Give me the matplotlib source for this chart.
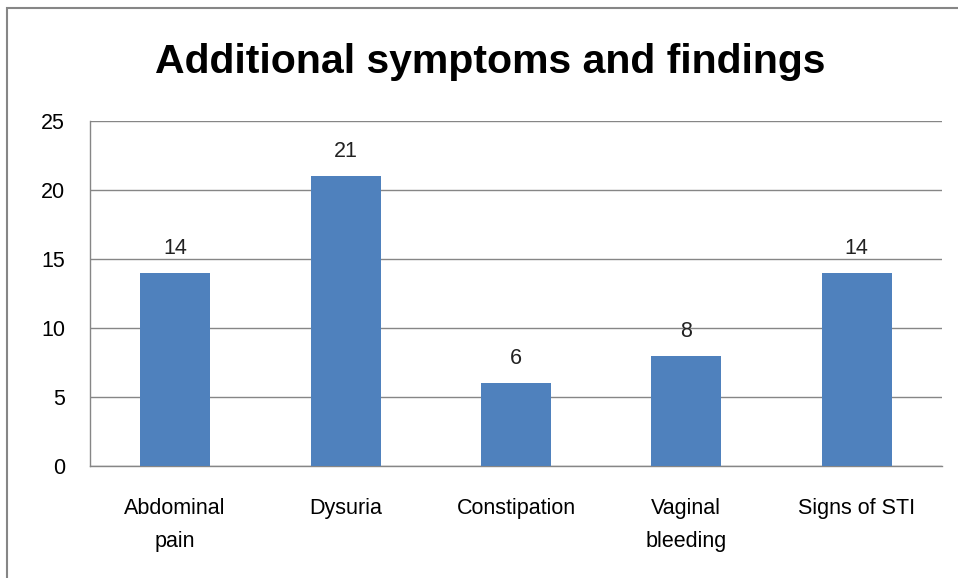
import matplotlib.pyplot as plt
from matplotlib.patches import Rectangle

categories = ["Abdominal\npain", "Dysuria", "Constipation", "Vaginal\nbleeding", "Signs of STI"]
values = [14, 21, 6, 8, 14]
yticks = [0, 5, 10, 15, 20, 25]

plt.rcParams['font.family'] = ['Liberation Sans', 'DejaVu Sans']

W, H = 958, 578
fig = plt.figure(figsize=(W / 100, H / 100), dpi=100)

# outer chart border
fig.add_artist(Rectangle((7 / W, -0.1), 1.2, (H - 8) / H + 0.1, transform=fig.transFigure,
                         fill=False, edgecolor="#868686", linewidth=1.5))

left, right, top, bottom = 90, 942, 121, 466
ax = fig.add_axes([left / W, 1 - bottom / H, (right - left) / W, (bottom - top) / H])

x = range(len(categories))
bars = ax.bar(x, values, width=0.41, color="#4F81BD", zorder=3)
for b, v in zip(bars, values):
    ax.text(b.get_x() + b.get_width() / 2, v + 1.0, str(v), ha="center", va="bottom",
            fontsize=15.5, color="#222222")

ax.set_xlim(-0.5, len(categories) - 0.5)
ax.set_ylim(0, 25)
ax.set_yticks(yticks)
ax.set_xticks(list(x))
ax.set_xticklabels(categories, fontsize=15.5, linespacing=1.75)
ax.tick_params(axis="x", length=0, pad=23)
ax.tick_params(axis="y", length=0, pad=18, labelsize=15.5)
ax.grid(axis="y", color="#868686", linewidth=1, zorder=0)

for s in ["top", "right"]:
    ax.spines[s].set_visible(False)
for s in ["left", "bottom"]:
    ax.spines[s].set_color("#868686")
    ax.spines[s].set_linewidth(1)

fig.text(490 / W, 1 - 62 / H, "Additional symptoms and findings", ha="center", va="center",
         fontsize=29.5, fontweight="bold")

fig.savefig("out.png", dpi=100)
